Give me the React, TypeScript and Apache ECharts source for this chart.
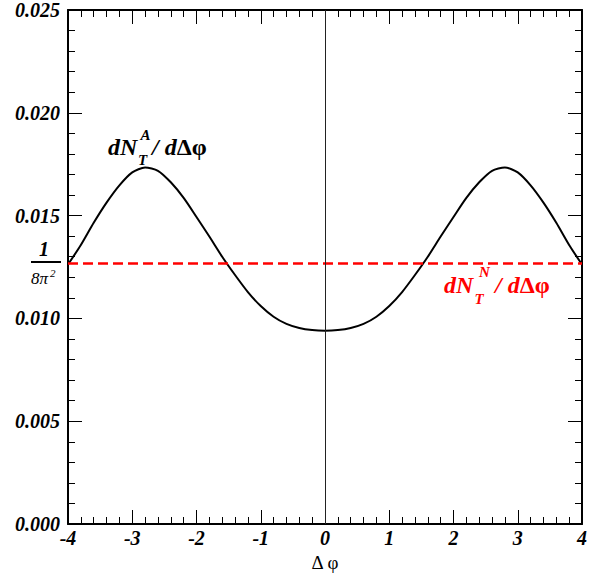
import React, { useEffect, useRef } from "react";
import * as echarts from "echarts";

const xValues = [
  -4.0, -3.8, -3.6, -3.4, -3.2, -3.0, -2.8, -2.6, -2.4, -2.2, -2.0, -1.8, -1.6, -1.4, -1.2, -1.0, -0.8, -0.6, -0.4, -0.2,
  0.0, 0.2, 0.4, 0.6, 0.8, 1.0, 1.2, 1.4, 1.6, 1.8, 2.0, 2.2, 2.4, 2.6, 2.8, 3.0, 3.2, 3.4, 3.6, 3.8, 4.0,
];
const curveA = [
  0.01262, 0.01357, 0.01465, 0.01563, 0.01647, 0.0171, 0.01734, 0.01718, 0.01662, 0.01586, 0.01493, 0.01398, 0.013,
  0.01211, 0.01128, 0.0106, 0.01008, 0.00973, 0.00953, 0.00943, 0.0094, 0.00943, 0.00953, 0.00973, 0.01008, 0.0106,
  0.01128, 0.01211, 0.013, 0.01398, 0.01493, 0.01586, 0.01662, 0.01718, 0.01734, 0.0171, 0.01647, 0.01563, 0.01465,
  0.01357, 0.01262,
];
const levelN = 0.012665; // 1/(8π²)
const lineNX = [-4, 4];
const xTicks = ["-4", "-3", "-2", "-1", "0", "1", "2", "3", "4"];
const yTicks = ["0.000", "0.005", "0.010", "0.015", "0.020", "0.025"];

const SERIF = '"Liberation Serif", "Times New Roman", serif';
const BI = (s: number) => `italic bold ${s}px ${SERIF}`;

export default function App() {
  const ref = useRef<HTMLDivElement>(null);
  useEffect(() => {
    if (!ref.current) return;
    const chart = echarts.init(ref.current, undefined, { renderer: "svg" });
    const tickStyle = { color: "#000", width: 1 };
    const axisCommonX = {
      type: "value",
      min: -4,
      max: 4,
      interval: 1,
      axisLine: { show: true, onZero: false, lineStyle: { color: "#000", width: 2 } },
      axisTick: { show: true, inside: true, length: 14, lineStyle: tickStyle },
      minorTick: { show: true, splitNumber: 5, length: 7, lineStyle: tickStyle },
      splitLine: { show: false },
      minorSplitLine: { show: false },
    };
    const axisCommonY = {
      type: "value",
      min: 0,
      max: 0.025,
      interval: 0.005,
      axisLine: { show: true, onZero: false, lineStyle: { color: "#000", width: 2 } },
      axisTick: { show: true, inside: true, length: 14, lineStyle: tickStyle },
      minorTick: { show: true, splitNumber: 5, length: 7, lineStyle: tickStyle },
      splitLine: { show: false },
      minorSplitLine: { show: false },
    };
    const labelFont = {
      fontFamily: SERIF,
      fontWeight: "bold",
      fontStyle: "italic",
      fontSize: 20,
      color: "#000",
    };
    const txt = (text: string, x: number, y: number, size: number, fill: string, font?: string, align = "left") => ({
      type: "text",
      silent: true,
      style: {
        text,
        x,
        y,
        fill,
        font: font || BI(size),
        align,
        verticalAlign: "middle",
      },
    });
    const richTxt = (x: number, y: number, size: number, fill: string) => ({
      type: "text",
      silent: true,
      style: {
        text: "{i|/ d}{u|Δφ}",
        x,
        y,
        fill,
        font: BI(size),
        align: "left",
        verticalAlign: "middle",
        rich: {
          i: { fontFamily: SERIF, fontStyle: "italic", fontWeight: "bold", fontSize: size, fill },
          u: { fontFamily: SERIF, fontStyle: "normal", fontWeight: "bold", fontSize: size, fill },
        },
      },
    });
    const option: any = {
      animation: false,
      grid: { left: 68, right: 27, top: 10, bottom: 52, containLabel: false, outerBoundsMode: "none" },
      xAxis: [
        {
          ...axisCommonX,
          position: "bottom",
          axisLabel: {
            ...labelFont,
            margin: 4,
            formatter: (v: number) => xTicks[Math.round(v) + 4] ?? "",
          },
          name: "Δ φ",
          nameLocation: "middle",
          nameGap: 28,
          nameTextStyle: { fontFamily: SERIF, fontSize: 19, color: "#000" },
        },
        { ...axisCommonX, position: "top", axisLabel: { show: false } },
      ],
      yAxis: [
        {
          ...axisCommonY,
          position: "left",
          axisLabel: {
            ...labelFont,
            margin: 8,
            formatter: (v: number) => yTicks[Math.round(v / 0.005)] ?? "",
          },
        },
        { ...axisCommonY, position: "right", axisLabel: { show: false } },
      ],
      series: [
        {
          type: "line",
          data: xValues.map((x, i) => [x, curveA[i]]),
          showSymbol: false,
          smooth: 0.25,
          lineStyle: { color: "#000", width: 2 },
          z: 3,
          markLine: {
            silent: true,
            symbol: ["none", "none"],
            label: { show: false },
            lineStyle: { color: "#222", width: 1, type: "solid" },
            data: [{ xAxis: 0 }],
          },
        },
        {
          type: "line",
          data: lineNX.map((x) => [x, levelN]),
          showSymbol: false,
          lineStyle: { color: "#ff0000", width: 2.5, type: [10, 5] },
          z: 4,
        },
      ],
      graphic: [
        // dN_T^A / dΔφ
        txt("dN", 108, 147, 24, "#000"),
        txt("A", 140.5, 135, 15, "#000"),
        txt("T", 138, 159.5, 15, "#000"),
        richTxt(152, 147, 24, "#000"),
        // dN_T^N / dΔφ
        txt("dN", 444, 285, 24, "#ff0000"),
        txt("N", 479, 272, 15, "#ff0000"),
        txt("T", 474.5, 298.5, 15, "#ff0000"),
        richTxt(495, 285, 24, "#ff0000"),
        // 1/(8π²)
        txt("1", 44, 249, 20, "#000", undefined, "center"),
        {
          type: "line",
          silent: true,
          shape: { x1: 31, y1: 262, x2: 61, y2: 262 },
          style: { stroke: "#000", lineWidth: 2 },
        },
        txt("8π", 31, 278, 17, "#000", `italic ${17}px ${SERIF}`),
        txt("2", 50, 273, 11, "#000", `italic ${11}px ${SERIF}`),
      ],
    };
    chart.setOption(option);
    return () => chart.dispose();
  }, []);
  return (
    <div
      ref={ref}
      style={{ position: "fixed", left: 0, top: 0, width: 609, height: 576, background: "#fff" }}
    />
  );
}
